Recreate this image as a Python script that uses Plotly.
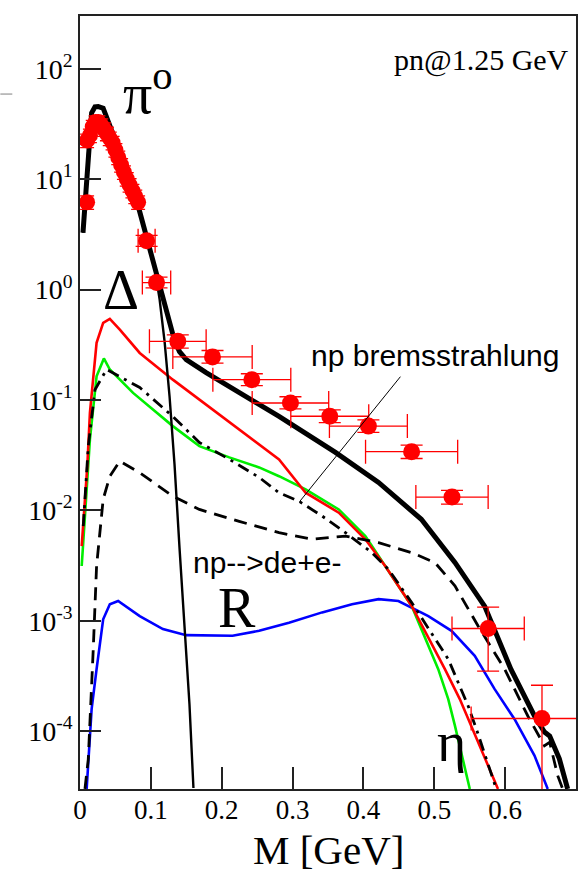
import plotly.graph_objects as go

# ---- model curves: dielectron invariant mass M [GeV] vs. yield ----
# total (thick black)
tot_m = [0.0042, 0.0117, 0.0164, 0.0211, 0.0257, 0.0327, 0.0492, 0.0702, 0.0843, 0.0941,
         0.1096, 0.1236, 0.1334, 0.1404, 0.1499, 0.178, 0.2341, 0.2809, 0.3605, 0.4213,
         0.4817, 0.5291, 0.5712, 0.6081, 0.6414, 0.6555, 0.6629, 0.6765, 0.6882]
tot_y = [3.28, 18.5, 40.0, 45.3, 45.6, 44.1, 23.8, 10.3, 5.08, 2.95,
         1.21, 0.558, 0.346, 0.275, 0.2325, 0.1774, 0.1076, 0.0710, 0.0335, 0.0179,
         0.0083, 0.00338, 0.00135, 3.64e-4, 1.37e-4, 9.8e-5, 9.0e-5, 5.6e-5, 2.99e-5]

# pi0 Dalitz (thin black)
pi0_m = [0.0042, 0.0117, 0.0164, 0.0211, 0.0257, 0.0327, 0.0492, 0.0702, 0.0843, 0.0941,
         0.1053, 0.1124, 0.1194, 0.1264, 0.1334, 0.1404, 0.1475, 0.1545, 0.1601]
pi0_y = [3.28, 18.5, 40.0, 45.3, 45.6, 44.1, 23.8, 10.3, 5.08, 2.95,
         1.58, 0.812, 0.338, 0.1076, 0.0261, 4.62e-3, 9.3e-4, 1.75e-4, 3.05e-5]

# Delta Dalitz (red)
dlt_m = [0.0024, 0.0103, 0.014, 0.0234, 0.0327, 0.0421, 0.0562, 0.0843, 0.131, 0.1685,
         0.2247, 0.2809, 0.3184, 0.3652, 0.4027, 0.4307, 0.4681, 0.515, 0.536, 0.5618, 0.5899]
dlt_y = [4.75e-3, 0.0252, 0.0766, 0.330, 0.500, 0.543, 0.435, 0.267, 0.153, 0.101,
         0.0541, 0.029, 0.01445, 0.00953, 0.00547, 0.00313, 1.36e-3, 3.64e-4, 1.95e-4, 7.94e-5, 2.99e-5]

# eta Dalitz (green)
eta_m = [0.0024, 0.007, 0.014, 0.0234, 0.0337, 0.0421, 0.0749, 0.131, 0.1685, 0.2107,
         0.2528, 0.2809, 0.2996, 0.3184, 0.3652, 0.4027, 0.4307, 0.4681, 0.5056, 0.5197,
         0.5291, 0.5501]
eta_y = [3.13e-3, 9.53e-3, 0.0439, 0.164, 0.238, 0.189, 0.116, 0.058, 0.0382, 0.0302,
         0.0245, 0.0204, 0.0178, 0.0155, 0.0102, 0.00585, 0.00313, 1.36e-3, 3.64e-4, 1.95e-4,
         1.12e-4, 2.99e-5]

# np bremsstrahlung (dash-dot)
brm_m = [0.0046, 0.0117, 0.0211, 0.0375, 0.0843, 0.131, 0.1685, 0.2107, 0.2528, 0.2809,
         0.309, 0.3417, 0.3746, 0.4119, 0.4354, 0.4681, 0.5197, 0.5478, 0.5618, 0.5875]
brm_y = [7.2e-3, 0.0382, 0.124, 0.189, 0.130, 0.071, 0.0412, 0.029, 0.0199, 0.01445,
         0.0121, 0.00888, 0.00628, 0.00414, 0.00292, 1.46e-3, 4.49e-4, 1.69e-4, 9.4e-5, 2.99e-5]

# np --> d e+ e- (dashed)
dee_m = [0.007, 0.0117, 0.0187, 0.0234, 0.0327, 0.0421, 0.0562, 0.0843, 0.131, 0.1685,
         0.2247, 0.2809, 0.3277, 0.3746, 0.4213, 0.4681, 0.501, 0.5291, 0.5618, 0.5993,
         0.632, 0.6555, 0.6629, 0.6742, 0.6812]
dee_y = [2.99e-5, 5.58e-5, 5.52e-4, 3.13e-3, 0.0126, 0.0204, 0.0279, 0.0219, 0.01346, 0.0102,
         0.00795, 0.00628, 0.00547, 0.00585, 0.0051, 0.00414, 0.00336, 0.00207, 8.97e-4, 3.64e-4,
         1.37e-4, 7.36e-5, 7.9e-5, 3.94e-5, 2.99e-5]

# R (blue)
res_m = [0.0094, 0.0164, 0.0234, 0.0327, 0.0421, 0.0538, 0.0843, 0.117, 0.1499, 0.2153,
         0.2528, 0.2949, 0.3417, 0.3839, 0.4213, 0.4494, 0.4916, 0.5243, 0.5571, 0.5852,
         0.6133, 0.6414, 0.6601]
res_y = [2.99e-5, 1.58e-4, 3.64e-4, 1.03e-3, 1.41e-3, 1.51e-3, 1.1e-3, 8.4e-4, 7.4e-4, 7.3e-4,
         8.1e-4, 9.6e-4, 1.19e-3, 1.41e-3, 1.57e-3, 1.51e-3, 1.1e-3, 8.1e-4, 4.8e-4, 2.4e-4,
         1.28e-4, 6.0e-5, 2.99e-5]

# ---- measured points ----
# dense low-mass region
low_m = [0.010, 0.010, 0.014, 0.018, 0.022, 0.026, 0.030, 0.034, 0.038, 0.042, 0.046,
         0.050, 0.054, 0.058, 0.062, 0.066, 0.070, 0.074, 0.078, 0.082]
low_y = [6.2, 22.5, 25.0, 30.0, 33.0, 33.0, 31.0, 28.5, 26.0, 23.5, 21.5,
         18.5, 15.8, 13.5, 11.6, 10.1, 8.9, 7.9, 7.0, 6.2]
low_dm = [0.004] * len(low_m)

# wide-bin region
hi_m = [0.094, 0.108, 0.138, 0.187, 0.2425, 0.297, 0.3525, 0.407, 0.468, 0.525, 0.576, 0.652]
hi_y = [2.77, 1.16, 0.34, 0.246, 0.153, 0.094, 0.0713, 0.058, 0.034, 0.0132, 8.5e-4, 1.30e-4]
hi_dm = [0.012, 0.02, 0.04, 0.056, 0.055, 0.054, 0.055, 0.055, 0.065, 0.051, 0.051, 0.10]
hi_dy_up = [0.33, 0.14, 0.05, 0.035, 0.02, 0.013, 0.01, 0.008, 0.005, 0.002, 4.8e-4, 1.3e-4]
hi_dy_dn = [0.30, 0.12, 0.045, 0.03, 0.018, 0.011, 0.009, 0.007, 0.0045, 0.0018, 5.0e-4, 1.29e-4]

# ---- axes ----
X_RANGE = [0, 0.7]
Y_RANGE_LOG = [-4.525, 2.48]
y_exp = [-4, -3, -2, -1, 0, 1, 2]
y_tickvals = [10.0 ** e for e in y_exp]
y_ticktext = ["10<sup>%d</sup>" % e for e in y_exp]
y_minor = [d * 10.0 ** e for e in range(-5, 3) for d in range(2, 10)]
y_minor = [v for v in y_minor if 10 ** Y_RANGE_LOG[0] <= v <= 10 ** Y_RANGE_LOG[1]]
x_tickvals = [0, 0.1, 0.2, 0.3, 0.4, 0.5, 0.6]
x_ticktext = ["0", "0.1", "0.2", "0.3", "0.4", "0.5", "0.6"]
x_minor = [0.05, 0.15, 0.25, 0.35, 0.45, 0.55, 0.65]
x_title = "M [GeV]"

SERIF = "Liberation Serif"
SANS = "Liberation Sans"
AX = "#222222"

fig = go.Figure()


def curve(m, y, color, width, dash="solid"):
    fig.add_trace(go.Scatter(x=m, y=y, mode="lines",
                             line=dict(color=color, width=width, dash=dash),
                             showlegend=False, hoverinfo="skip"))


curve(res_m, res_y, "#0000ff", 2.6)
curve(eta_m, eta_y, "#00ee00", 2.6)
curve(dlt_m, dlt_y, "#ff0000", 2.6)
curve(brm_m, brm_y, "black", 2.8, "12px,6px,3px,6px")
curve(dee_m, dee_y, "black", 2.8, "13px,8px")
curve(pi0_m, pi0_y, "black", 2.4)
curve(tot_m, tot_y, "black", 5)

fig.add_trace(go.Scatter(
    x=low_m, y=low_y, mode="markers",
    marker=dict(color="#ff0000", size=16),
    error_x=dict(type="data", array=low_dm, color="#ff0000", thickness=1.3, width=7),
    error_y=dict(type="percent", value=14, color="#ff0000", thickness=1.3, width=7),
    showlegend=False, hoverinfo="skip"))

fig.add_trace(go.Scatter(
    x=hi_m, y=hi_y, mode="markers",
    marker=dict(color="#ff0000", size=17),
    error_x=dict(type="data", array=hi_dm, color="#ff0000", thickness=1.3, width=12),
    error_y=dict(type="data", array=hi_dy_up, arrayminus=hi_dy_dn,
                 color="#ff0000", thickness=1.3, width=11),
    showlegend=False, hoverinfo="skip"))

# pointer to the bremsstrahlung curve
fig.add_shape(type="line", xref="paper", yref="paper",
              x0=0.4425, y0=0.3716, x1=0.6460, y1=0.5334,
              line=dict(color="black", width=1))
fig.add_shape(type="line", xref="paper", yref="paper",
              x0=-0.1606, y0=0.899, x1=-0.1365, y1=0.899,
              line=dict(color="#aaaaaa", width=1.5))


def label(text, xp, yp, size, family=SERIF, yanchor="middle"):
    fig.add_annotation(text=text, x=xp, y=yp, xref="paper", yref="paper",
                       showarrow=False, xanchor="center", yanchor=yanchor,
                       font=dict(family=family, size=size, color="black"))


label("π<sup>o</sup>", 0.138, 0.905, 58)
label("Δ", 0.0823, 0.6455, 56)
label("R", 0.3173, 0.2342, 56)
label("η", 0.749, 0.0608, 56)
label("np bremsstrahlung", 0.7149, 0.5614, 30, SANS)
label("np-->de+e-", 0.3775, 0.2924, 30, SANS)
label("pn@1.25 GeV", 0.8092, 0.943, 30)
# x-axis title, set just below the tick labels
label(x_title, 0.5, -0.0466, 41, SERIF, "top")


def tick_only(vals, length, **kw):
    """Unlabelled inward ticks on an overlaid axis (frame ticks on all four sides)."""
    d = dict(tickmode="array", tickvals=vals, ticks="inside", ticklen=length,
             tickwidth=1.5, tickcolor=AX, showticklabels=False, showline=False,
             showgrid=False, zeroline=False)
    d.update(kw)
    return d


fig.update_layout(
    width=578, height=873,
    margin=dict(l=80, r=0, t=16, b=84),
    paper_bgcolor="white", plot_bgcolor="white",
    xaxis=dict(
        range=X_RANGE, tickmode="array", tickvals=x_tickvals, ticktext=x_ticktext,
        ticks="inside", ticklen=22, tickwidth=1.5, tickcolor=AX,
        ticklabelstandoff=-4,
        showline=True, linecolor=AX, linewidth=1.5, mirror=True,
        showgrid=False, zeroline=False,
        tickfont=dict(family=SERIF, size=27, color="black"),
    ),
    yaxis=dict(
        type="log", range=Y_RANGE_LOG, tickmode="array",
        tickvals=y_tickvals, ticktext=y_ticktext,
        ticks="inside", ticklen=21, tickwidth=1.5, tickcolor=AX,
        showline=True, linecolor=AX, linewidth=1.5, mirror=True,
        showgrid=False, zeroline=False,
        tickfont=dict(family=SERIF, size=28, color="black"),
    ),
    xaxis2=tick_only(x_tickvals, 22, overlaying="x", side="top", anchor="y", range=X_RANGE),
    xaxis3=tick_only(x_minor, 11, overlaying="x", side="bottom", anchor="y", range=X_RANGE),
    xaxis4=tick_only(x_minor, 11, overlaying="x", side="top", anchor="y", range=X_RANGE),
    yaxis2=tick_only(y_tickvals, 21, overlaying="y", side="right", anchor="x",
                     type="log", range=Y_RANGE_LOG),
    yaxis3=tick_only(y_minor, 12, overlaying="y", side="left", anchor="x",
                     type="log", range=Y_RANGE_LOG),
    yaxis4=tick_only(y_minor, 12, overlaying="y", side="right", anchor="x",
                     type="log", range=Y_RANGE_LOG),
)

fig.write_html("out.html")
